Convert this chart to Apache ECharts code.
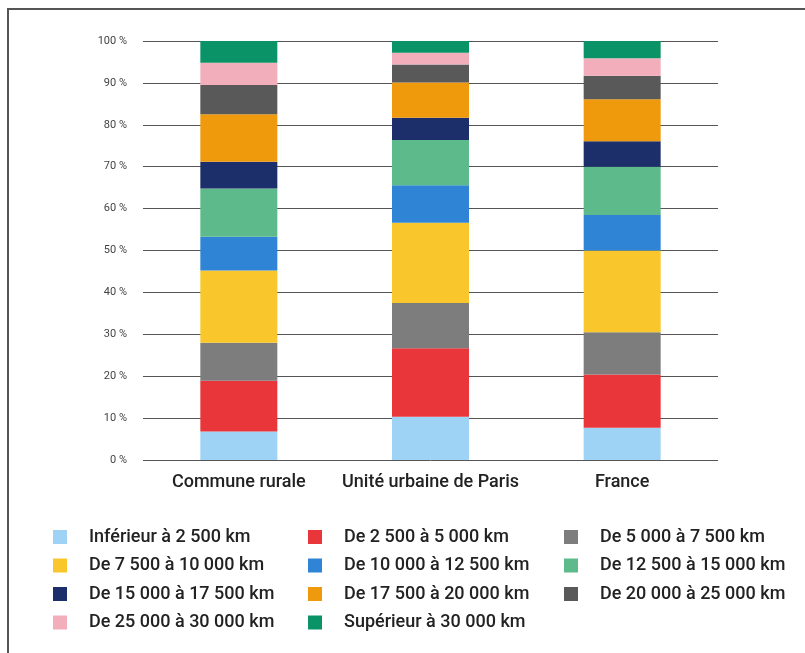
<!DOCTYPE html>
<html>
<head>
<meta charset="utf-8">
<script src="https://cdn.jsdelivr.net/npm/echarts@6/dist/echarts.min.js"></script>
<style>
  html, body { margin: 0; padding: 0; background: #fff; }
  #chart { width: 805px; height: 653px; }
</style>
</head>
<body>
<div id="chart"></div>
<script>
// catégories et tranches de kilométrage
const categories = ['Commune rurale', 'Unité urbaine de Paris', 'France']
const tranches = [
  'Inférieur à 2 500 km',
  'De 2 500 à 5 000 km',
  'De 5 000 à 7 500 km',
  'De 7 500 à 10 000 km',
  'De 10 000 à 12 500 km',
  'De 12 500 à 15 000 km',
  'De 15 000 à 17 500 km',
  'De 17 500 à 20 000 km',
  'De 20 000 à 25 000 km',
  'De 25 000 à 30 000 km',
  'Supérieur à 30 000 km'
]
const couleurs = [
  '#9fd3f5', '#e8363a', '#7d7d7d', '#f9c72c', '#2f84d6', '#5dba8a',
  '#1d2f6b', '#ef9a0c', '#595959', '#f3aebb', '#0a9366'
]
// parts (%) par catégorie, une valeur par tranche
const communeRurale = [6.8, 12.1, 9.1, 17.2, 8.1, 11.5, 6.4, 11.3, 7.0, 5.3, 5.2]
const uniteParis    = [10.3, 16.4, 10.8, 19.1, 9.0, 10.8, 5.3, 8.4, 4.3, 2.8, 2.8]
const france        = [7.7, 12.7, 10.1, 19.5, 8.5, 11.5, 6.1, 10.0, 5.6, 4.2, 4.1]

const series = tranches.map((name, i) => ({
  name,
  type: 'bar',
  stack: 'total',
  barWidth: 77,
  itemStyle: { color: couleurs[i] },
  data: [communeRurale[i], uniteParis[i], france[i]]
}))

// légende en 3 colonnes (ordre ligne par ligne)
const colonnes = [[], [], []]
tranches.forEach((t, i) => colonnes[i % 3].push(t))
const legendLeft = [53, 308, 564]
const legends = colonnes.map((data, c) => ({
  orient: 'vertical',
  left: legendLeft[c],
  top: 528,
  padding: 0,
  itemWidth: 14,
  itemHeight: 14,
  itemGap: 10.5,
  icon: 'rect',
  data,
  selectedMode: false,
  textStyle: {
    fontFamily: 'Roboto', fontSize: 18, lineHeight: 18, fontWeight: 500,
    color: '#222', padding: [0, 0, 0, 17]
  }
}))

const chart = echarts.init(document.getElementById('chart'))
chart.setOption({
  animation: false,
  backgroundColor: '#fff',
  graphic: [{
    type: 'rect',
    shape: { x: 8, y: 9, width: 810, height: 660 },
    style: { fill: 'none', stroke: '#555', lineWidth: 2 },
    silent: true
  }],
  grid: { left: 143, right: 87, top: 41, height: 419, containLabel: false },
  legend: legends,
  xAxis: {
    type: 'category',
    data: categories,
    axisLine: { show: false },
    axisTick: { show: false },
    axisLabel: {
      interval: 0, margin: 13,
      fontFamily: 'Roboto', fontSize: 18, fontWeight: 500, color: '#222'
    }
  },
  yAxis: {
    type: 'value',
    min: 0,
    max: 100,
    interval: 10,
    axisLine: { show: false },
    axisTick: { show: false },
    axisLabel: {
      margin: 16,
      fontFamily: 'Roboto',
      fontSize: 11,
      color: '#444',
      formatter: v => v + ' %'
    },
    splitLine: { lineStyle: { color: '#555', width: 1 } }
  },
  series
})
</script>
</body>
</html>
